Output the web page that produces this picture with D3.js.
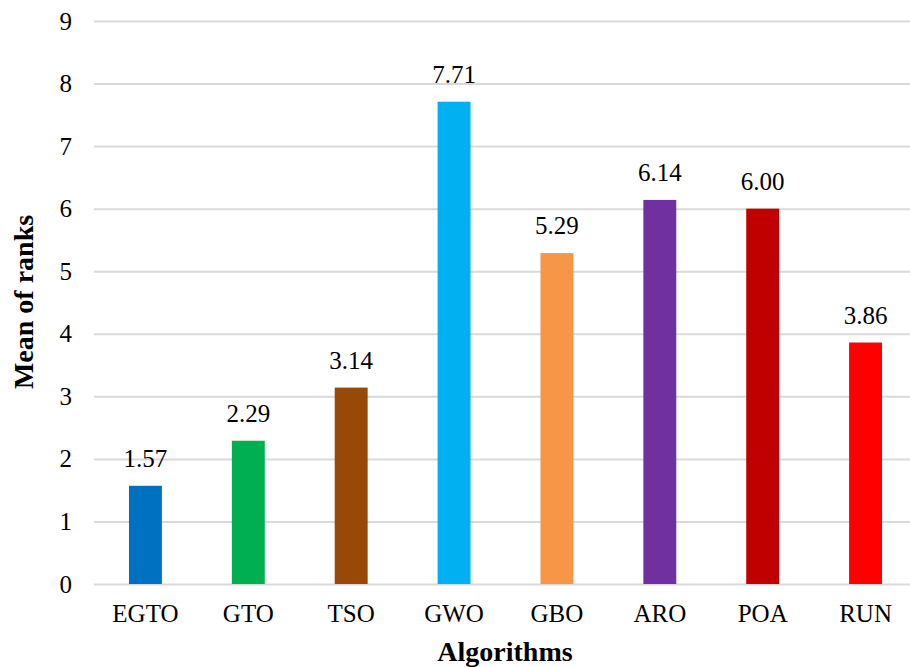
<!DOCTYPE html>
<html>
<head>
<meta charset="utf-8">
<script src="https://cdn.jsdelivr.net/npm/d3@7"></script>
<style>
  html, body { margin: 0; padding: 0; background: #fff; }
  svg text { font-family: "Liberation Serif", "Times New Roman", serif !important; fill: #000; }
</style>
</head>
<body>
<svg id="chart" width="910" height="667"></svg>
<script>
// Mean rank of each algorithm
const algorithms = ["EGTO", "GTO", "TSO", "GWO", "GBO", "ARO", "POA", "RUN"];
const meanRanks = [1.57, 2.29, 3.14, 7.71, 5.29, 6.14, 6.00, 3.86];
const barColors = ["#0070C0", "#00B050", "#984807", "#00B0F0", "#F79646", "#7030A0", "#C00000", "#FF0000"];
const yTicks = [0, 1, 2, 3, 4, 5, 6, 7, 8, 9];

const FONT = "Liberation Serif";
const svg = d3.select("#chart");
const plot = { left: 94, right: 917, top: 21, bottom: 584 };

const x = d3.scaleBand()
  .domain(algorithms)
  .range([plot.left, plot.right])
  .paddingInner(0.68)
  .paddingOuter(0.34);

const y = d3.scaleLinear()
  .domain([0, 9])
  .range([plot.bottom, plot.top]);

// Horizontal gridlines with left-side labels
const yAxis = d3.axisLeft(y)
  .tickValues(yTicks)
  .tickSize(-(plot.right - plot.left))
  .tickPadding(22)
  .tickFormat(d3.format("d"));

const gy = svg.append("g")
  .attr("transform", `translate(${plot.left},0)`)
  .call(yAxis)
  .attr("font-family", FONT)
  .attr("font-size", 25);
gy.select(".domain").remove();
gy.selectAll(".tick line").attr("stroke", "#d9d9d9").attr("stroke-width", 2);
gy.selectAll(".tick text").attr("fill", "#000");

// Bars
svg.append("g").selectAll("rect")
  .data(algorithms)
  .join("rect")
  .attr("x", d => x(d))
  .attr("width", x.bandwidth())
  .attr("y", (d, i) => y(meanRanks[i]))
  .attr("height", (d, i) => y(0) - y(meanRanks[i]))
  .attr("fill", (d, i) => barColors[i]);

// Value labels above bars
svg.append("g")
  .attr("font-family", FONT)
  .attr("font-size", 25)
  .selectAll("text")
  .data(algorithms)
  .join("text")
  .attr("x", d => x(d) + x.bandwidth() / 2)
  .attr("y", (d, i) => y(meanRanks[i]) - 19)
  .attr("text-anchor", "middle")
  .text((d, i) => meanRanks[i].toFixed(2));

// Category axis
const xAxis = d3.axisBottom(x).tickSize(0).tickPadding(20);
const gx = svg.append("g")
  .attr("transform", `translate(0,${plot.bottom})`)
  .call(xAxis)
  .attr("font-family", FONT)
  .attr("font-size", 25);
gx.select(".domain").remove();
gx.selectAll(".tick text").attr("fill", "#000");

// Axis titles
svg.append("text")
  .attr("x", 505)
  .attr("y", 661)
  .attr("text-anchor", "middle")
  .attr("font-family", FONT)
  .attr("font-size", 28)
  .attr("font-weight", "bold")
  .text("Algorithms");

svg.append("text")
  .attr("transform", "translate(33,302) rotate(-90)")
  .attr("text-anchor", "middle")
  .attr("font-family", FONT)
  .attr("font-size", 28)
  .attr("font-weight", "bold")
  .text("Mean of ranks");
</script>
</body>
</html>
